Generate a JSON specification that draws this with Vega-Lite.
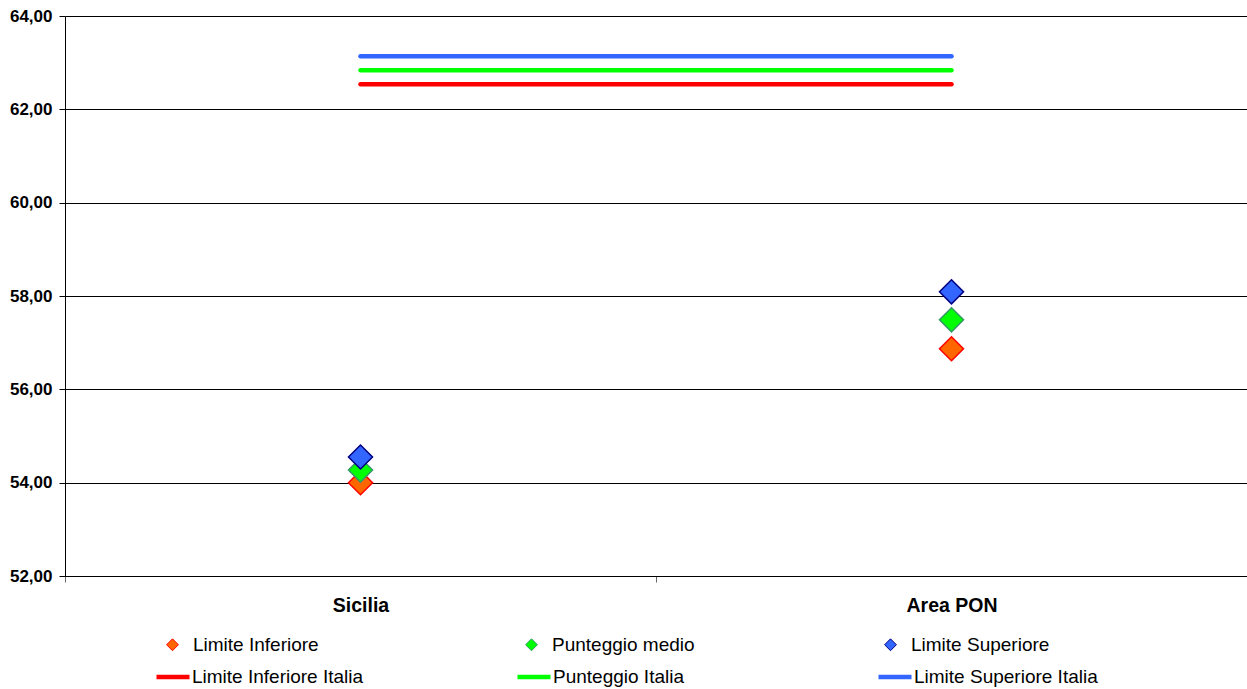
{
  "$schema": "https://vega.github.io/schema/vega-lite/v6.json",
  "width": 1182,
  "height": 560,
  "autosize": {"type": "none"},
  "padding": {"left": 65, "top": 16, "right": 0, "bottom": 113},
  "background": "white",
  "config": {"view": {"stroke": null}, "font": "Liberation Sans"},
  "datasets": {
    "punti": [
      {"area": "Sicilia", "serie": "Limite Inferiore", "valore": 54.0},
      {"area": "Sicilia", "serie": "Punteggio medio", "valore": 54.27},
      {"area": "Sicilia", "serie": "Limite Superiore", "valore": 54.55},
      {"area": "Area PON", "serie": "Limite Inferiore", "valore": 56.87},
      {"area": "Area PON", "serie": "Punteggio medio", "valore": 57.49},
      {"area": "Area PON", "serie": "Limite Superiore", "valore": 58.09}
    ],
    "italia": [
      {"area": "Sicilia", "serie": "Limite Inferiore Italia", "valore": 62.54},
      {"area": "Area PON", "serie": "Limite Inferiore Italia", "valore": 62.54},
      {"area": "Sicilia", "serie": "Punteggio Italia", "valore": 62.84},
      {"area": "Area PON", "serie": "Punteggio Italia", "valore": 62.84},
      {"area": "Sicilia", "serie": "Limite Superiore Italia", "valore": 63.14},
      {"area": "Area PON", "serie": "Limite Superiore Italia", "valore": 63.14}
    ]
  },
  "encoding": {
    "x": {
      "field": "area",
      "type": "nominal",
      "sort": ["Sicilia", "Area PON"],
      "scale": {"type": "band", "paddingInner": 0, "paddingOuter": 0},
      "axis": {
        "title": null,
        "labelAngle": 0,
        "tickBand": "extent",
        "grid": false,
        "domainColor": "#000000",
        "domainWidth": 1,
        "tickColor": "#666666",
        "tickSize": 6,
        "labelPadding": 14,
        "labelFont": "Liberation Sans",
        "labelFontSize": 19.5,
        "labelFontWeight": "bold",
        "labelColor": "#000000"
      }
    },
    "y": {
      "field": "valore",
      "type": "quantitative",
      "scale": {"domain": [52, 64], "nice": false, "zero": false},
      "axis": {
        "title": null,
        "values": [52, 54, 56, 58, 60, 62, 64],
        "labelExpr": "replace(format(datum.value, '.2f'), '.', ',')",
        "grid": true,
        "gridColor": "#000000",
        "gridWidth": 1,
        "domainColor": "#000000",
        "tickColor": "#000000",
        "tickSize": 6,
        "labelPadding": 7,
        "labelFont": "Liberation Sans",
        "labelFontSize": 17,
        "labelFontWeight": "bold",
        "labelColor": "#000000"
      }
    }
  },
  "layer": [
    {
      "data": {"name": "italia"},
      "mark": {"type": "line", "strokeWidth": 4.5, "strokeCap": "round"},
      "encoding": {
        "color": {
          "field": "serie",
          "type": "nominal",
          "scale": {
            "domain": ["Limite Inferiore Italia", "Punteggio Italia", "Limite Superiore Italia"],
            "range": ["#FF0000", "#00FF00", "#3366FF"]
          },
          "legend": {
            "orient": "none",
            "legendX": 89,
            "legendY": 642,
            "direction": "horizontal",
            "columns": 3,
            "title": null,
            "padding": 0,
            "gridAlign": "all",
            "columnPadding": 132,
            "symbolType": "stroke",
            "symbolSize": 1089,
            "symbolStrokeWidth": 4.5,
            "labelOffset": 0,
            "labelLimit": 400,
            "labelFont": "Liberation Sans",
            "labelFontSize": 19,
            "labelColor": "#000000"
          }
        }
      }
    },
    {
      "data": {"name": "punti"},
      "mark": {"type": "point", "shape": "diamond", "filled": true, "size": 580, "strokeWidth": 1.5, "opacity": 1},
      "encoding": {
        "fill": {
          "field": "serie",
          "type": "nominal",
          "scale": {
            "domain": ["Limite Inferiore", "Punteggio medio", "Limite Superiore"],
            "range": ["#FF6600", "#00FF00", "#3366FF"]
          },
          "legend": {
            "orient": "none",
            "legendX": 98,
            "legendY": 619,
            "direction": "horizontal",
            "columns": 3,
            "title": null,
            "padding": 0,
            "gridAlign": "all",
            "columnPadding": 186,
            "symbolType": "diamond",
            "symbolSize": 140,
            "symbolStrokeWidth": 1,
            "labelOffset": 11,
            "labelLimit": 400,
            "labelFont": "Liberation Sans",
            "labelFontSize": 19,
            "labelColor": "#000000"
          }
        },
        "stroke": {
          "field": "serie",
          "type": "nominal",
          "scale": {
            "domain": ["Limite Inferiore", "Punteggio medio", "Limite Superiore"],
            "range": ["#FF0000", "#339966", "#000080"]
          },
          "legend": null
        }
      }
    }
  ],
  "resolve": {"scale": {"color": "independent", "fill": "independent", "stroke": "independent"}}
}
